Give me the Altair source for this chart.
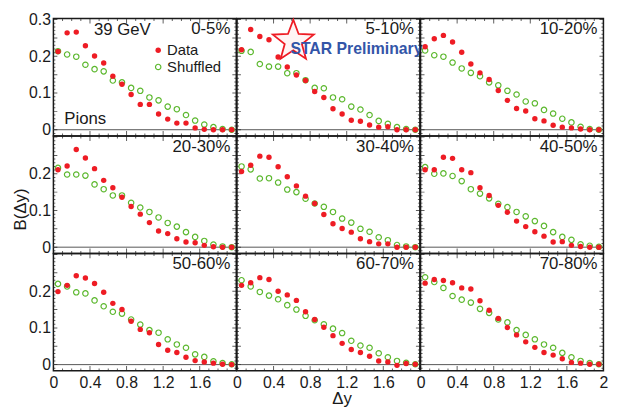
import math
import altair as alt
import pandas as pd

# ---------------- data ----------------
DY = [0.05, 0.15, 0.25, 0.35, 0.45, 0.55, 0.65, 0.75, 0.85, 0.95,
      1.05, 1.15, 1.25, 1.35, 1.45, 1.55, 1.65, 1.75, 1.85, 1.95]

CENTRALITY = ["0-5%", "5-10%", "10-20%", "20-30%", "30-40%", "40-50%",
              "50-60%", "60-70%", "70-80%"]

data_0_5 = [0.213, 0.264, 0.266, 0.229, 0.201, 0.182, 0.146, 0.124, 0.096, 0.069,
            0.069, 0.043, 0.029, 0.018, 0.018, 0.005, 0.001, 0.000, 0.000, 0.000]
shuf_0_5 = [0.214, 0.205, 0.199, 0.177, 0.165, 0.159, 0.134, 0.129, 0.114, 0.106,
            0.088, 0.080, 0.063, 0.056, 0.040, 0.025, 0.014, 0.007, 0.002, 0.000]

data_5_10 = [0.218, 0.273, 0.254, 0.245, 0.198, 0.171, 0.149, 0.134, 0.104, 0.088,
             0.057, 0.043, 0.026, 0.023, 0.013, 0.007, 0.008, 0.000, 0.000, 0.000]
shuf_5_10 = [0.215, 0.212, 0.179, 0.172, 0.172, 0.154, 0.154, 0.135, 0.114, 0.113,
             0.088, 0.083, 0.063, 0.055, 0.040, 0.024, 0.016, 0.007, 0.002, 0.000]

data_10_20 = [0.226, 0.248, 0.257, 0.239, 0.211, 0.179, 0.155, 0.137, 0.107, 0.080,
              0.058, 0.051, 0.030, 0.024, 0.012, 0.007, 0.005, 0.002, 0.000, 0.000]
shuf_10_20 = [0.216, 0.203, 0.199, 0.183, 0.167, 0.155, 0.146, 0.129, 0.121, 0.106,
              0.096, 0.077, 0.072, 0.054, 0.044, 0.030, 0.020, 0.008, 0.002, 0.000]

data_20_30 = [0.211, 0.221, 0.266, 0.243, 0.214, 0.182, 0.162, 0.136, 0.111, 0.090,
              0.067, 0.044, 0.037, 0.023, 0.014, 0.012, 0.005, 0.001, 0.000, 0.000]
shuf_20_30 = [0.216, 0.198, 0.198, 0.195, 0.171, 0.158, 0.141, 0.141, 0.121, 0.108,
              0.096, 0.081, 0.066, 0.056, 0.041, 0.028, 0.017, 0.007, 0.002, 0.000]

data_30_40 = [0.206, 0.223, 0.248, 0.245, 0.219, 0.192, 0.167, 0.139, 0.119, 0.089,
              0.064, 0.051, 0.041, 0.023, 0.015, 0.009, 0.009, 0.000, 0.000, 0.000]
shuf_30_40 = [0.220, 0.212, 0.187, 0.188, 0.176, 0.157, 0.150, 0.132, 0.119, 0.110,
              0.096, 0.078, 0.067, 0.050, 0.042, 0.027, 0.019, 0.006, 0.002, 0.000]

data_40_50 = [0.211, 0.211, 0.245, 0.242, 0.211, 0.203, 0.162, 0.141, 0.114, 0.095,
              0.071, 0.056, 0.042, 0.030, 0.014, 0.015, 0.005, 0.002, 0.000, 0.000]
shuf_40_50 = [0.218, 0.200, 0.201, 0.194, 0.180, 0.158, 0.146, 0.133, 0.118, 0.109,
              0.096, 0.084, 0.071, 0.058, 0.041, 0.028, 0.020, 0.008, 0.004, 0.001]

data_50_60 = [0.199, 0.216, 0.242, 0.236, 0.221, 0.197, 0.167, 0.150, 0.118, 0.096,
              0.087, 0.055, 0.039, 0.033, 0.020, 0.011, 0.007, 0.004, 0.001, 0.000]
shuf_50_60 = [0.220, 0.213, 0.197, 0.194, 0.175, 0.159, 0.144, 0.139, 0.123, 0.109,
              0.094, 0.087, 0.069, 0.055, 0.046, 0.028, 0.021, 0.009, 0.004, 0.001]

data_60_70 = [0.216, 0.223, 0.237, 0.232, 0.200, 0.190, 0.175, 0.144, 0.123, 0.102,
              0.079, 0.058, 0.041, 0.033, 0.023, 0.010, 0.007, -0.002, 0.003, 0.001]
shuf_60_70 = [0.230, 0.213, 0.198, 0.188, 0.178, 0.162, 0.150, 0.133, 0.121, 0.110,
              0.098, 0.086, 0.065, 0.052, 0.046, 0.031, 0.020, 0.010, 0.005, 0.001]

data_70_80 = [0.222, 0.232, 0.229, 0.223, 0.209, 0.206, 0.174, 0.148, 0.126, 0.101,
              0.081, 0.062, 0.047, 0.033, 0.026, 0.016, 0.006, 0.004, 0.001, 0.001]
shuf_70_80 = [0.238, 0.225, 0.209, 0.187, 0.177, 0.169, 0.152, 0.141, 0.123, 0.115,
              0.094, 0.081, 0.069, 0.055, 0.046, 0.032, 0.020, 0.010, 0.004, 0.001]

DATA = [data_0_5, data_5_10, data_10_20, data_20_30, data_30_40,
        data_40_50, data_50_60, data_60_70, data_70_80]
SHUF = [shuf_0_5, shuf_5_10, shuf_10_20, shuf_20_30, shuf_30_40,
        shuf_40_50, shuf_50_60, shuf_60_70, shuf_70_80]

X_LABELS = [0, 0.4, 0.8, 1.2, 1.6]
Y_LABELS = [0, 0.1, 0.2]

# ---------------- styling ----------------
W, H = 185.3, 119
XS = alt.Scale(domain=[0, 2], nice=False, zero=False)
YS = alt.Scale(domain=[-0.017, 0.303], nice=False, zero=False)
FONT = "Liberation Sans"
RED = "#ee1c24"
GREEN = "#5cb82e"
INK = "#1a1a1a"
BLUE = "#3355a8"


def star_path(r_in=0.42):
    pts = []
    for k in range(10):
        ang = -math.pi / 2 + k * math.pi / 5
        r = 1.0 if k % 2 == 0 else r_in
        pts.append(f"{r * math.cos(ang):.3f},{r * math.sin(ang):.3f}")
    return "M" + "L".join(pts) + "Z"


# inward tick marks (axis decoration)
YT = pd.DataFrame({"v": [round(-0.01 + 0.01 * k, 3) for k in range(32)]})
YT["s"] = [8 if abs(v / 0.05 - round(v / 0.05)) < 1e-6 else 4 for v in YT["v"]]
XT = pd.DataFrame({"v": [round(0.1 * k, 2) for k in range(21)]})
XT["s"] = [10 if abs(v / 0.4 - round(v / 0.4)) < 1e-6 else 5 for v in XT["v"]]
ZERO = pd.DataFrame({"z": [0]})


def panel(i):
    row, col = divmod(i, 3)
    if row == 2:
        xvals = X_LABELS + ([2] if col == 2 else [])
        xax = alt.Axis(values=xvals, format="~g", ticks=False, domain=False, grid=False,
                       labelFont=FONT, labelFontSize=16, labelColor=INK, labelPadding=4,
                       labelFlush=False, labelOverlap=False,
                       title="Δy", titleFont=FONT, titleFontSize=17, titleFontWeight="normal",
                       titleColor=INK, titleOpacity=1 if col == 1 else 0,
                       titleX=106, titleY=28, titleBaseline="middle", titleAlign="center")
    else:
        xax = None
    if col == 0:
        yvals = Y_LABELS + ([0.3] if row == 0 else [])
        yax = alt.Axis(values=yvals, format="~g", ticks=False, domain=False, grid=False,
                       labelFont=FONT, labelFontSize=16, labelColor=INK, labelPadding=3,
                       labelFlush=False, labelOverlap=False,
                       title="B(Δy)", titleFont=FONT, titleFontSize=17, titleFontWeight="normal",
                       titleColor=INK, titleOpacity=1 if row == 1 else 0, titleAngle=270,
                       titleX=-33, titleY=74, titleBaseline="middle", titleAlign="center")
    else:
        yax = None

    def X(f):
        return alt.X(f"{f}:Q", scale=XS, axis=xax)

    def Y(f):
        return alt.Y(f"{f}:Q", scale=YS, axis=yax)

    df = pd.DataFrame({"dy": DY, "data": DATA[i], "shuf": SHUF[i]})

    layers = []
    layers.append(alt.Chart(ZERO).mark_rule(color="#555555", strokeWidth=1).encode(y=Y("z")))
    tick_kw = dict(clip=True, color=INK, thickness=1)
    layers.append(alt.Chart(YT).mark_tick(orient="horizontal", **tick_kw).encode(
        y=Y("v"), x=alt.value(0), size=alt.Size("s:Q", scale=None, legend=None)))
    layers.append(alt.Chart(YT).mark_tick(orient="horizontal", **tick_kw).encode(
        y=Y("v"), x=alt.value(W), size=alt.Size("s:Q", scale=None, legend=None)))
    layers.append(alt.Chart(XT).mark_tick(orient="vertical", **tick_kw).encode(
        x=X("v"), y=alt.value(H), size=alt.Size("s:Q", scale=None, legend=None)))
    layers.append(alt.Chart(XT).mark_tick(orient="vertical", **tick_kw).encode(
        x=X("v"), y=alt.value(0), size=alt.Size("s:Q", scale=None, legend=None)))

    layers.append(alt.Chart(df).mark_point(shape="circle", filled=False, size=30,
                                           strokeWidth=1.2, color=GREEN, opacity=1).encode(
        x=X("dy"), y=Y("shuf")))
    layers.append(alt.Chart(df).mark_circle(size=30, color=RED, opacity=1).encode(
        x=X("dy"), y=Y("data")))

    lab = pd.DataFrame({"x": [1.935], "y": [0.2735], "t": [CENTRALITY[i]]})
    layers.append(alt.Chart(lab).mark_text(align="right", baseline="middle", font=FONT,
                                           fontSize=17, color=INK).encode(
        x=X("x"), y=Y("y"), text="t:N"))

    if i == 0:
        ann = pd.DataFrame({"x": [0.443, 0.119],
                            "y": [0.271, 0.029],
                            "t": ["39 GeV", "Pions"]})
        layers.append(alt.Chart(ann).mark_text(align="left", baseline="middle", font=FONT,
                                               fontSize=17, color=INK).encode(
            x=X("x"), y=Y("y"), text="t:N"))
        legt = pd.DataFrame({"x": [1.243, 1.243], "y": [0.2175, 0.170],
                             "t": ["Data", "Shuffled"]})
        layers.append(alt.Chart(legt).mark_text(align="left", baseline="middle", font=FONT,
                                                fontSize=15, color=INK).encode(
            x=X("x"), y=Y("y"), text="t:N"))
        leg = pd.DataFrame({"x": [1.146], "y1": [0.2165], "y2": [0.171]})
        layers.append(alt.Chart(leg).mark_circle(size=30, color=RED, opacity=1).encode(
            x=X("x"), y=Y("y1")))
        layers.append(alt.Chart(leg).mark_point(shape="circle", filled=False, size=30,
                                                strokeWidth=1.2, color=GREEN, opacity=1).encode(
            x=X("x"), y=Y("y2")))
    if i == 1:
        st = pd.DataFrame({"x": [0.616], "y": [0.241]})
        layers.append(alt.Chart(st).mark_point(shape=star_path(), size=1900, filled=True,
                                               fill="#fff4f4", stroke=RED, strokeWidth=1.8,
                                               opacity=1).encode(x=X("x"), y=Y("y")))
        txt = pd.DataFrame({"x": [0.584], "y": [0.2196], "t": ["STAR Preliminary"]})
        layers.append(alt.Chart(txt).mark_text(align="left", baseline="middle", font=FONT,
                                               fontSize=16, fontWeight="bold", color=BLUE).encode(
            x=X("x"), y=Y("y"), text="t:N"))

    return alt.layer(*layers).properties(width=W, height=H)


chart = alt.concat(*[panel(i) for i in range(9)], columns=3, spacing=0, bounds="flush").properties(
    padding={"left": 3, "top": 0, "right": 5, "bottom": 0}
).configure_view(stroke=INK, strokeWidth=1.5)

chart.save("out.html", embed_options={"renderer": "svg", "actions": False})
